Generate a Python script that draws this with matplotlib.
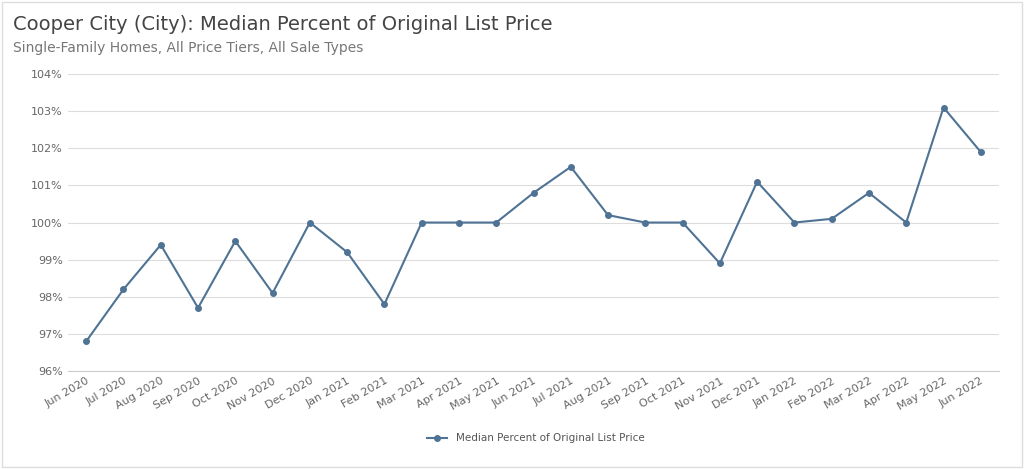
import matplotlib.pyplot as plt
from matplotlib.ticker import FuncFormatter

months = ['Jun 2020', 'Jul 2020', 'Aug 2020', 'Sep 2020', 'Oct 2020', 'Nov 2020', 'Dec 2020',
          'Jan 2021', 'Feb 2021', 'Mar 2021', 'Apr 2021', 'May 2021', 'Jun 2021', 'Jul 2021',
          'Aug 2021', 'Sep 2021', 'Oct 2021', 'Nov 2021', 'Dec 2021', 'Jan 2022', 'Feb 2022',
          'Mar 2022', 'Apr 2022', 'May 2022', 'Jun 2022']
pct = [96.8, 98.2, 99.4, 97.7, 99.5, 98.1, 100.0, 99.2, 97.8, 100.0, 100.0, 100.0, 100.8,
       101.5, 100.2, 100.0, 100.0, 98.9, 101.1, 100.0, 100.1, 100.8, 100.0, 103.1, 101.9]

color = '#4f7394'
fig = plt.figure(figsize=(10.24, 4.69), dpi=100)
fig.patches.append(plt.Rectangle((0.002, 0.004), 0.996, 0.992, transform=fig.transFigure,
                                 fill=False, edgecolor='#dddddd', lw=1))
ax = fig.add_axes([0.066, 0.209, 0.91, 0.633])
x = range(len(months))
ax.plot(x, pct, color=color, lw=1.5, marker='o', ms=4, label='Median Percent of Original List Price')
ax.set_ylim(96, 104)
ax.set_yticks(range(96, 105))
ax.yaxis.set_major_formatter(FuncFormatter(lambda v, p: f'{v:.0f}%'))
ax.set_xlim(-0.5, len(months) - 0.5)
ax.set_xticks(list(x))
ax.set_xticklabels(months, rotation=30, ha='right', rotation_mode='anchor')
ax.tick_params(axis='both', labelsize=8, colors='#666666', length=0)
ax.grid(axis='y', color='#dddddd', lw=0.8)
for s in ['top', 'right', 'left']:
    ax.spines[s].set_visible(False)
ax.spines['bottom'].set_color('#cccccc')
fig.text(0.013, 0.935, 'Cooper City (City): Median Percent of Original List Price', fontsize=14, color='#444444')
fig.text(0.013, 0.89, 'Single-Family Homes, All Price Tiers, All Sale Types', fontsize=10, color='#777777')
fig.legend(loc='lower center', bbox_to_anchor=(0.523, 0.035), frameon=False, fontsize=7.5,
           labelcolor='#555555')
fig.savefig('out.png')
